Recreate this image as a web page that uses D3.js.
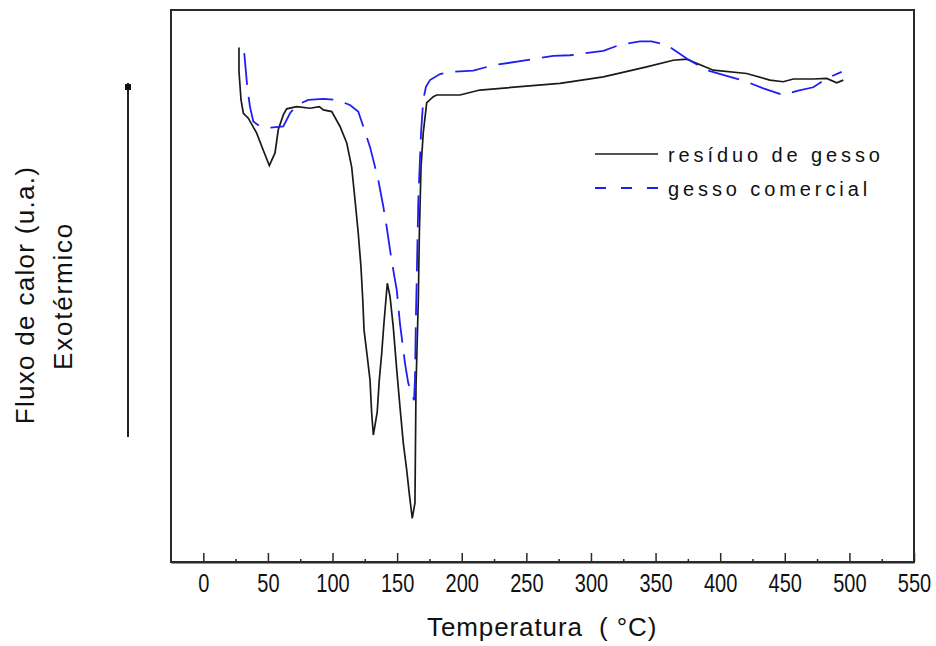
<!DOCTYPE html>
<html>
<head>
<meta charset="utf-8">
<script src="https://cdn.jsdelivr.net/npm/d3@7"></script>
<style>
  body { margin: 0; background: #fff; }
  text { font-family: "Liberation Sans", Arial, sans-serif; fill: #111; }
</style>
</head>
<body>
<div id="chart"></div>
<script>
// resíduo de gesso (black, solid)
let residuoTemp = [27.6, 27.6, 29.2, 31.0, 34.8, 41.3, 46.4, 51.1, 55.5, 58.0, 61.9, 64.5, 72.3, 82.6, 89.8, 92.9, 99.4,
    105.8, 111.0, 114.8, 117.4, 119.9, 122.0, 123.4, 124.4, 126.9, 129.0, 130.3, 131.6, 134.6, 136.2, 138.1, 139.8,
    142.4, 144.5, 147.0, 149.7, 152.2, 154.8, 157.4, 159.4, 161.7, 163.8, 164.6, 166.4, 167.2, 168.5, 170.2, 172.9,
    178.0, 180.6, 198.6, 214.0, 276.0, 309.6, 343.1, 363.7, 374.1, 394.7, 420.5, 438.5, 448.8, 456.6, 472.1, 482.4,
    490.2, 495.3]
let residuoFlux = [93.2, 88.9, 83.7, 81.3, 80.4, 77.7, 74.6, 71.8, 74.1, 78.3, 81.0, 82.1, 82.5, 82.2, 82.5, 81.9, 81.6,
    78.9, 75.9, 71.6, 65.6, 59.6, 53.5, 47.5, 42.0, 37.2, 33.0, 27.0, 23.0, 27.2, 33.0, 37.9, 43.3,
    50.5, 48.1, 42.6, 34.8, 28.1, 21.5, 16.7, 12.4, 7.9, 10.7, 31.8, 47.5, 59.6, 71.6, 77.7, 83.2,
    84.3, 84.6, 84.6, 85.5, 86.7, 87.9, 89.7, 90.9, 91.1, 89.1, 88.5, 87.3, 87.0, 87.5, 87.5, 87.6,
    86.8, 87.3]

// gesso comercial (blue, dashed)
let comercialTemp = [31.7, 34.0, 36.1, 38.7, 43.9, 51.6, 61.9, 67.1, 72.3, 81.3, 92.9, 103.2, 113.5, 119.9, 123.8,
    129.0, 131.6, 135.4, 139.3, 141.9, 145.3, 148.3, 149.7, 152.2, 156.1, 158.6, 163.1, 163.8, 164.6, 165.1, 166.4,
    168.5, 170.2, 172.3, 175.4, 183.2, 193.5, 208.9, 224.4, 250.3, 270.9, 283.8, 309.6, 322.5, 338.0, 347.0, 358.6,
    374.1, 389.6, 407.6, 420.5, 433.4, 448.8, 460.4, 472.1, 482.4, 494.0]
let comercialFlux = [92.2, 86.1, 82.5, 79.8, 78.9, 78.7, 78.9, 81.3, 82.8, 83.7, 83.9, 83.7, 82.8, 81.6, 78.9,
    75.2, 72.8, 69.2, 64.4, 60.7, 55.3, 51.1, 49.3, 43.2, 36.0, 32.4, 29.3, 33.0, 45.1, 50.5, 65.6,
    77.7, 83.7, 86.1, 87.3, 88.4, 88.8, 89.0, 90.0, 90.9, 91.7, 91.8, 92.6, 93.7, 94.3, 94.3, 93.7,
    91.2, 89.1, 87.9, 87.0, 85.8, 84.6, 85.4, 86.0, 87.6, 88.8]

let majorTicks = [0, 50, 100, 150, 200, 250, 300, 350, 400, 450, 500, 550]
let minorTicks = [25, 75, 125, 175, 225, 275, 325, 375, 425, 475, 525]
let legendLabels = ["resíduo de gesso", "gesso comercial"]
let seriesColors = ["#1a1a1a", "#1f1ff5"]

let width = 936, height = 646

let svg = d3.select("#chart")
    .append("svg")
    .attr("width", width)
    .attr("height", height)

let x = d3.scaleLinear()
    .domain([-25, 550])
    .range([171, 914])

let y = d3.scaleLinear()
    .domain([0, 100])
    .range([562, 10])

// frame
svg.append("rect")
    .attr("x", x.range()[0])
    .attr("y", y.range()[1])
    .attr("width", x.range()[1] - x.range()[0])
    .attr("height", y.range()[0] - y.range()[1])
    .attr("fill", "none")
    .attr("stroke", "#2a2a2a")
    .attr("stroke-width", 2)

// major ticks point inward
let xAxis = svg.append("g")
    .attr("transform", "translate(0," + y.range()[0] + ")")
    .call(d3.axisBottom(x).tickValues(majorTicks).tickSizeInner(-9).tickSizeOuter(0).tickPadding(12))
xAxis.select(".domain").attr("stroke", "#2a2a2a").attr("stroke-width", 2)
xAxis.selectAll(".tick line").attr("stroke", "#2a2a2a").attr("stroke-width", 1.5)
// narrow digits like the original bitmap font
xAxis.selectAll(".tick text")
    .attr("font-family", "'Liberation Sans', Arial, sans-serif")
    .attr("font-size", 25)
    .attr("transform", "scale(0.8,1)")
    .attr("fill", "#111")

// minor ticks
let xMinor = svg.append("g")
    .attr("transform", "translate(0," + y.range()[0] + ")")
    .call(d3.axisBottom(x).tickValues(minorTicks).tickSizeInner(-3).tickSizeOuter(0).tickFormat(""))
xMinor.select(".domain").remove()
xMinor.selectAll(".tick line").attr("stroke", "#2a2a2a").attr("stroke-width", 1.5)

// curves
let residuo = residuoTemp.map((t, i) => ({t: t, f: residuoFlux[i]}))
let comercial = comercialTemp.map((t, i) => ({t: t, f: comercialFlux[i]}))

let line = d3.line()
    .x(d => x(d.t))
    .y(d => y(d.f))

svg.append("path")
    .datum(residuo)
    .attr("fill", "none")
    .attr("stroke", seriesColors[0])
    .attr("stroke-width", 1.7)
    .attr("d", line)

svg.append("path")
    .datum(comercial)
    .attr("fill", "none")
    .attr("stroke", seriesColors[1])
    .attr("stroke-width", 1.8)
    .attr("stroke-dasharray", "32,12")
    .attr("d", line)

// legend
let legend = svg.append("g").attr("transform", "translate(595,154)")
legendLabels.forEach(function(label, i) {
    let row = legend.append("g").attr("transform", "translate(0," + (i * 34) + ")")
    row.append("line")
        .attr("x1", 0).attr("x2", 63)
        .attr("stroke", seriesColors[i])
        .attr("stroke-width", i == 0 ? 1.7 : 2)
        .attr("stroke-dasharray", i == 0 ? null : "11,15")
    row.append("text")
        .attr("x", 73)
        .attr("y", 7.5)
        .attr("font-size", 20)
        .attr("letter-spacing", "3.9px")
        .text(label)
})

// x axis title
svg.append("text")
    .attr("x", 427)
    .attr("y", 636)
    .attr("font-size", 26)
    .attr("letter-spacing", "0.9px")
    .attr("xml:space", "preserve")
    .text("Temperatura  ( °C)")

// y axis titles
svg.append("text")
    .attr("transform", "translate(34,295) rotate(-90)")
    .attr("text-anchor", "middle")
    .attr("font-size", 26)
    .attr("letter-spacing", "1.3px")
    .text("Fluxo de calor (u.a.)")

svg.append("text")
    .attr("transform", "translate(72,296) rotate(-90)")
    .attr("text-anchor", "middle")
    .attr("font-size", 26)
    .attr("letter-spacing", "1.8px")
    .text("Exotérmico")

// exothermic arrow
svg.append("line")
    .attr("x1", 128).attr("x2", 128)
    .attr("y1", 437).attr("y2", 83)
    .attr("stroke", "#222")
    .attr("stroke-width", 2)
svg.append("rect")
    .attr("x", 125).attr("y", 84)
    .attr("width", 6).attr("height", 6)
    .attr("fill", "#111")
</script>
</body>
</html>
